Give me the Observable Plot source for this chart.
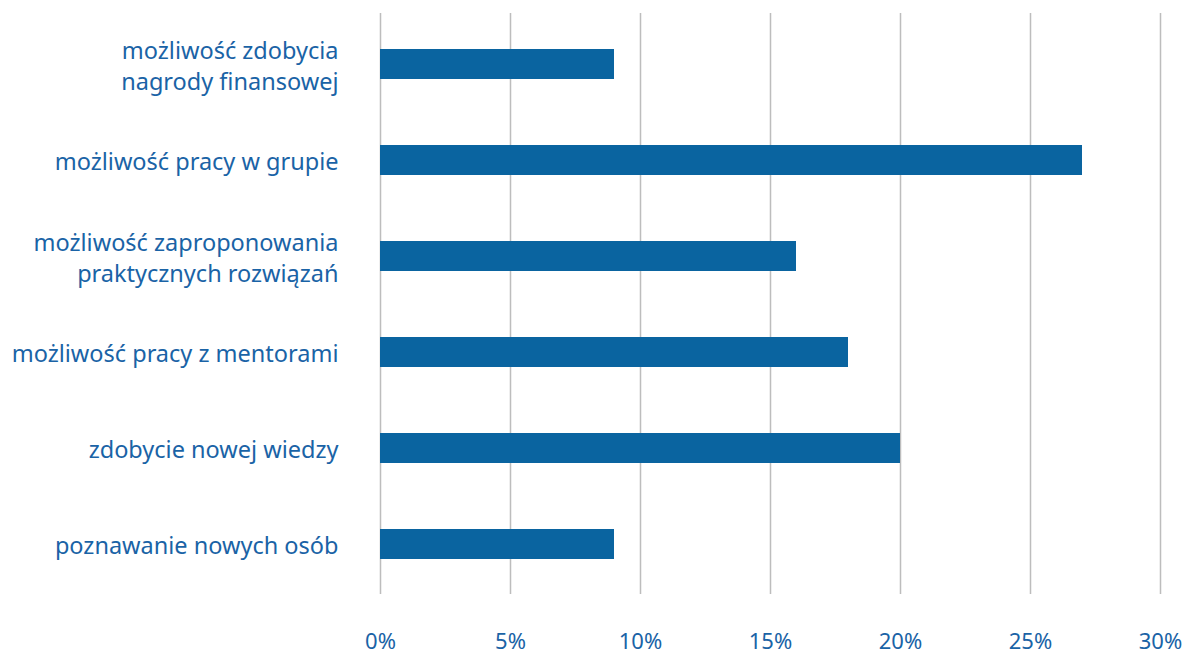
<!DOCTYPE html>
<html>
<head>
<meta charset="utf-8">
<script src="https://cdn.jsdelivr.net/npm/d3@7"></script>
<script src="https://cdn.jsdelivr.net/npm/@observablehq/plot@0.6"></script>
<style>
  html, body { margin: 0; padding: 0; background: #fff; }
  #chart svg { display: block; }
</style>
</head>
<body>
<div id="chart"></div>
<script>
const categories = [
  "możliwość zdobycia nagrody finansowej",
  "możliwość pracy w grupie",
  "możliwość zaproponowania praktycznych rozwiązań",
  "możliwość pracy z mentorami",
  "zdobycie nowej wiedzy",
  "poznawanie nowych osób"
];
const tickLabels = [
  "możliwość zdobycia\nnagrody finansowej",
  "możliwość pracy w grupie",
  "możliwość zaproponowania\npraktycznych rozwiązań",
  "możliwość pracy z mentorami",
  "zdobycie nowej wiedzy",
  "poznawanie nowych osób"
];
const values = [9, 27, 16, 18, 20, 9];
const xTicks = [0, 5, 10, 15, 20, 25, 30];

const data = categories.map((c, i) => ({category: c, value: values[i]}));
const labelOf = new Map(categories.map((c, i) => [c, tickLabels[i]]));

const textColor = "#1a63a6";
const barColor = "#0a64a0";

const chart = Plot.plot({
  width: 1188,
  height: 657,
  marginLeft: 380,
  marginRight: 28,
  marginTop: 13,
  marginBottom: 63,
  style: {fontFamily: "'Noto Sans', sans-serif", fontSize: "23px", color: textColor, background: "#fff"},
  x: {domain: [0, 30]},
  y: {domain: categories, paddingInner: 0.69, paddingOuter: 0.345},
  marks: [
    Plot.gridX(xTicks, {stroke: "#bdbdbd", strokeOpacity: 1, strokeWidth: 1.5}),
    Plot.barX(data, {x: "value", y: "category", fill: barColor}),
    Plot.axisX({ticks: xTicks, tickSize: 0, tickPadding: 39, tickFormat: d => d + "%", fill: textColor, fontSize: 22, label: null}),
    Plot.axisY({tickSize: 0, tickPadding: 42, tickFormat: d => labelOf.get(d), fill: textColor, fontSize: 23.5, lineHeight: 1.32, label: null})
  ]
});
document.getElementById("chart").appendChild(chart);
</script>
</body>
</html>
